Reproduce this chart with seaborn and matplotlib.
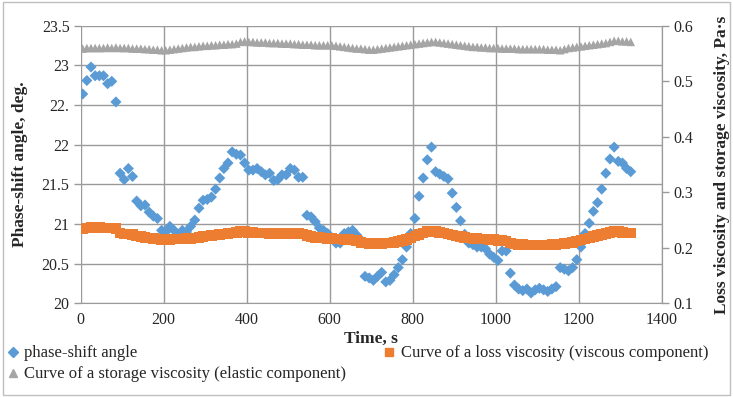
import numpy as np
import pandas as pd
import matplotlib
matplotlib.use("Agg")
import matplotlib.pyplot as plt
import seaborn as sns
from matplotlib.lines import Line2D
from matplotlib.patches import Rectangle

# sampling times, s
time_s = [
    5, 15, 25, 35, 45, 55, 65, 75, 85, 95, 105, 115, 125, 135, 145, 155, 165, 175, 185, 195,
    205, 215, 225, 235, 245, 255, 265, 275, 285, 295, 305, 315, 325, 335, 345, 355, 365, 375, 385, 395,
    405, 415, 425, 435, 445, 455, 465, 475, 485, 495, 505, 515, 525, 535, 545, 555, 565, 575, 585, 595,
    605, 615, 625, 635, 645, 655, 665, 675, 685, 695, 705, 715, 725, 735, 745, 755, 765, 775, 785, 795,
    805, 815, 825, 835, 845, 855, 865, 875, 885, 895, 905, 915, 925, 935, 945, 955, 965, 975, 985, 995,
    1005, 1015, 1025, 1035, 1045, 1055, 1065, 1075, 1085, 1095, 1105, 1115, 1125, 1135, 1145, 1155, 1165, 1175, 1185, 1195,
    1205, 1215, 1225, 1235, 1245, 1255, 1265, 1275, 1285, 1295, 1305, 1315, 1325,
]

# phase-shift angle, deg.
phase_angle = [
    22.64, 22.81, 22.98, 22.87, 22.87, 22.87, 22.77, 22.80, 22.54, 21.64, 21.56, 21.70, 21.60, 21.29, 21.23, 21.24, 21.15, 21.10, 21.07, 20.92,
    20.90, 20.97, 20.92, 20.86, 20.92, 20.90, 20.97, 21.05, 21.20, 21.30, 21.31, 21.34, 21.44, 21.58, 21.70, 21.77, 21.91, 21.88, 21.87, 21.77,
    21.68, 21.68, 21.70, 21.66, 21.62, 21.64, 21.55, 21.56, 21.62, 21.62, 21.70, 21.68, 21.59, 21.59, 21.11, 21.09, 21.03, 20.95, 20.92, 20.88,
    20.82, 20.76, 20.76, 20.88, 20.90, 20.92, 20.86, 20.80, 20.34, 20.32, 20.29, 20.34, 20.39, 20.27, 20.29, 20.36, 20.45, 20.55, 20.71, 20.88,
    21.07, 21.35, 21.58, 21.81, 21.97, 21.66, 21.63, 21.60, 21.57, 21.39, 21.21, 21.04, 20.87, 20.76, 20.74, 20.71, 20.71, 20.69, 20.62, 20.58,
    20.54, 20.66, 20.66, 20.38, 20.23, 20.18, 20.16, 20.18, 20.13, 20.17, 20.19, 20.17, 20.15, 20.18, 20.21, 20.45, 20.43, 20.41, 20.45, 20.55,
    20.71, 20.88, 21.01, 21.16, 21.27, 21.44, 21.64, 21.82, 21.97, 21.79, 21.77, 21.70, 21.66,
]

# loss viscosity (viscous component), Pa·s
loss_visc = [
    0.234, 0.236, 0.237, 0.237, 0.237, 0.236, 0.236, 0.236, 0.235, 0.227, 0.225, 0.225, 0.224, 0.221, 0.220, 0.219, 0.218, 0.217, 0.216, 0.215,
    0.215, 0.215, 0.216, 0.216, 0.216, 0.217, 0.217, 0.218, 0.219, 0.220, 0.221, 0.222, 0.223, 0.224, 0.225, 0.226, 0.227, 0.228, 0.229, 0.229,
    0.228, 0.228, 0.227, 0.227, 0.227, 0.226, 0.226, 0.226, 0.226, 0.226, 0.227, 0.226, 0.226, 0.225, 0.222, 0.220, 0.219, 0.219, 0.218, 0.217,
    0.217, 0.216, 0.216, 0.215, 0.215, 0.214, 0.213, 0.210, 0.209, 0.208, 0.208, 0.208, 0.208, 0.209, 0.209, 0.210, 0.211, 0.213, 0.215, 0.218,
    0.221, 0.224, 0.227, 0.229, 0.230, 0.229, 0.228, 0.227, 0.225, 0.223, 0.221, 0.220, 0.219, 0.218, 0.217, 0.217, 0.216, 0.216, 0.215, 0.215,
    0.213, 0.213, 0.212, 0.209, 0.207, 0.206, 0.206, 0.205, 0.205, 0.205, 0.205, 0.205, 0.205, 0.206, 0.206, 0.207, 0.208, 0.209, 0.210, 0.212,
    0.214, 0.216, 0.218, 0.220, 0.222, 0.224, 0.226, 0.228, 0.229, 0.229, 0.228, 0.227, 0.227,
]

# storage viscosity (elastic component), Pa·s
storage_visc = [
    0.559, 0.560, 0.560, 0.560, 0.560, 0.560, 0.561, 0.560, 0.561, 0.560, 0.560, 0.560, 0.559, 0.559, 0.559, 0.558, 0.558, 0.557, 0.557, 0.556,
    0.556, 0.557, 0.558, 0.559, 0.560, 0.561, 0.562, 0.562, 0.563, 0.564, 0.564, 0.565, 0.565, 0.566, 0.566, 0.567, 0.567, 0.568, 0.571, 0.572,
    0.571, 0.571, 0.570, 0.570, 0.570, 0.569, 0.569, 0.569, 0.568, 0.568, 0.568, 0.567, 0.567, 0.566, 0.566, 0.566, 0.565, 0.565, 0.565, 0.565,
    0.565, 0.564, 0.563, 0.562, 0.561, 0.560, 0.559, 0.559, 0.558, 0.557, 0.557, 0.558, 0.559, 0.560, 0.561, 0.562, 0.563, 0.564, 0.565, 0.566,
    0.567, 0.568, 0.569, 0.570, 0.571, 0.571, 0.570, 0.569, 0.568, 0.567, 0.566, 0.565, 0.564, 0.563, 0.562, 0.562, 0.561, 0.561, 0.560, 0.560,
    0.560, 0.559, 0.559, 0.559, 0.559, 0.558, 0.558, 0.558, 0.558, 0.558, 0.558, 0.558, 0.557, 0.557, 0.557, 0.556, 0.558, 0.560, 0.561, 0.562,
    0.563, 0.564, 0.565, 0.566, 0.567, 0.568, 0.569, 0.571, 0.573, 0.573, 0.572, 0.572, 0.571,
]

x_ticks = [0, 200, 400, 600, 800, 1000, 1200, 1400]
left_ticks = [20, 20.5, 21, 21.5, 22, 22.5, 23, 23.5]
left_tick_labels = ["20", "20.5", "21", "21.5", "22", "22.", "23", "23.5"]
right_ticks = [0.1, 0.2, 0.3, 0.4, 0.5, 0.6]
right_tick_labels = ["0.1", "0.2", "0.3", "0.4", "0.5", "0.6"]

blue = "#5B9BD5"
orange = "#ED7D31"
grey = "#A5A5A5"

sns.set_style("white")
plt.rcParams['font.family'] = ['Liberation Serif', 'DejaVu Serif']
plt.rcParams['font.size'] = 11

df = pd.DataFrame({'t': time_s, 'phase': phase_angle,
                   'loss': loss_visc, 'storage': storage_visc})

fig = plt.figure(figsize=(7.33, 3.97), dpi=100)
ax = fig.add_axes([0.110, 0.236, 0.793, 0.699])
ax2 = ax.twinx()

sns.scatterplot(data=df, x='t', y='phase', marker='D', s=32, color=blue,
                edgecolor='none', linewidth=0, ax=ax, zorder=3)
sns.scatterplot(data=df, x='t', y='loss', marker='s', s=58, color=orange,
                edgecolor='none', linewidth=0, ax=ax2, zorder=3)
sns.scatterplot(data=df, x='t', y='storage', marker='^', s=38, color=grey,
                edgecolor='none', linewidth=0, ax=ax2, zorder=3)

ax.set_xlim(0, 1400)
ax.set_ylim(20, 23.5)
ax2.set_ylim(0.1, 0.6)
ax.set_xticks(x_ticks)
ax.set_yticks(left_ticks)
ax.set_yticklabels(left_tick_labels)
ax2.set_yticks(right_ticks)
ax2.set_yticklabels(right_tick_labels)

grid_col = "#9a9a9a"
ax.grid(True, color=grid_col, linewidth=1.0)
ax.set_axisbelow(True)
for a in (ax, ax2):
    for side in ('top', 'left'):
        a.spines[side].set_visible(False)
    a.spines['bottom'].set_color(grid_col)
    a.spines['right'].set_color(grid_col)
ax2.spines['bottom'].set_visible(False)

ax.tick_params(axis='both', direction='out', length=5, width=1, color=grid_col,
               labelsize=11.5, pad=3)
ax.tick_params(axis='x', pad=1)
ax2.tick_params(axis='y', direction='out', length=5, width=1, color=grid_col,
                labelsize=11.5, pad=3)

ax.set_xlabel("Time, s", fontsize=12.5, fontweight='bold', labelpad=2)
ax.set_ylabel("Phase-shift angle, deg.", fontsize=12.5, fontweight='bold', labelpad=10)
ax2.set_ylabel("Loss viscosity and storage viscosity, Pa·s", fontsize=12.5,
               fontweight='bold', labelpad=15)

col1_handles = [
    Line2D([], [], linestyle='none', marker='D', markersize=5, color=blue),
    Line2D([], [], linestyle='none', marker='^', markersize=6, color=grey),
]
col1_labels = ["phase-shift angle",
               "Curve of a storage viscosity (elastic component)"]
fig.legend(col1_handles, col1_labels, loc='upper left',
           bbox_to_anchor=(0.008, 0.13), frameon=False, fontsize=12,
           handlelength=0.8, handletextpad=0.3, labelspacing=0.3,
           borderaxespad=0, borderpad=0)
col2_handles = [Line2D([], [], linestyle='none', marker='s', markersize=6, color=orange)]
col2_labels = ["Curve of a loss viscosity (viscous component)"]
fig.legend(col2_handles, col2_labels, loc='upper left',
           bbox_to_anchor=(0.522, 0.13), frameon=False, fontsize=12,
           handlelength=0.8, handletextpad=0.3, borderaxespad=0, borderpad=0)

fig.patches.append(Rectangle((0.004, 0.006), 0.992, 0.988, transform=fig.transFigure,
                             fill=False, edgecolor="#bfbfbf", linewidth=1.0))

fig.savefig("out.png", dpi=100)
